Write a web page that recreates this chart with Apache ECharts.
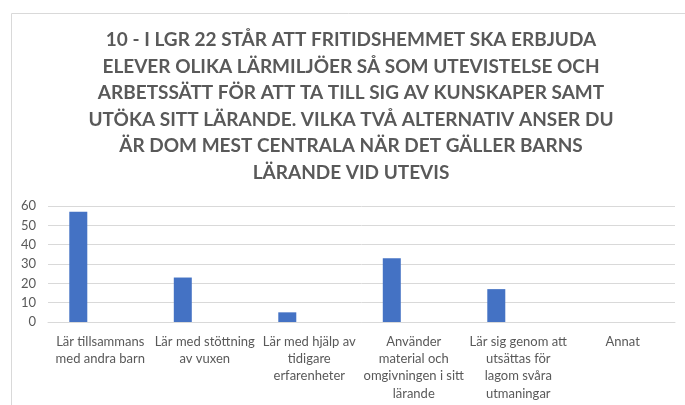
<!DOCTYPE html>
<html><head><meta charset="utf-8">
<script src="https://cdn.jsdelivr.net/npm/echarts@6/dist/echarts.min.js"></script>
<style>html,body{margin:0;padding:0;background:#fff}#c{width:685px;height:405px}</style>
</head><body><div id="c"></div>
<script>
const titleText = "10 - I LGR 22 STÅR ATT FRITIDSHEMMET SKA ERBJUDA\nELEVER OLIKA LÄRMILJÖER SÅ SOM UTEVISTELSE OCH\nARBETSSÄTT FÖR ATT TA TILL SIG AV KUNSKAPER SAMT\nUTÖKA SITT LÄRANDE. VILKA TVÅ ALTERNATIV ANSER DU\nÄR DOM MEST CENTRALA NÄR DET GÄLLER BARNS\nLÄRANDE VID UTEVIS";
const categories = [
  "Lär tillsammans\nmed andra barn",
  "Lär med stöttning\nav vuxen",
  "Lär med hjälp av\ntidigare\nerfarenheter",
  "Använder\nmaterial och\nomgivningen i sitt\nlärande",
  "Lär sig genom att\nutsättas för\nlagom svåra\nutmaningar",
  "Annat"
];
const seriesValues = [57, 23, 5, 33, 17, 0];
const emptySeries = [null, null, null, null, null, null];
const yTicks = [0, 10, 20, 30, 40, 50, 60];

const chart = echarts.init(document.getElementById('c'), null, {renderer: 'canvas'});
chart.setOption({
  animation: false,
  graphic: [{type: 'rect', shape: {x: 11.5, y: 13.5, width: 700, height: 420}, style: {fill: 'none', stroke: '#d9d9d9', lineWidth: 1}}],
  title: {
    text: titleText, left: 351, textAlign: 'center', top: 27, padding: 0,
    textStyle: {fontFamily: 'Lato', fontWeight: 'bold', fontSize: 19, color: '#595959', lineHeight: 26.5}
  },
  grid: {left: 48, right: 10, top: 206, bottom: 83, containLabel: false},
  xAxis: {
    type: 'category', data: categories,
    axisLine: {lineStyle: {color: '#d9d9d9'}}, axisTick: {show: false},
    axisLabel: {interval: 0, color: '#595959', fontFamily: 'Lato', fontSize: 13, lineHeight: 17.3, margin: 11, align: 'center'}
  },
  yAxis: {
    type: 'value', min: yTicks[0], max: yTicks[yTicks.length - 1], interval: 10,
    axisLine: {show: false}, axisTick: {show: false},
    splitLine: {lineStyle: {color: '#d9d9d9'}},
    axisLabel: {color: '#595959', fontFamily: 'Lato', fontSize: 13, margin: 12}
  },
  series: [
    {type: 'bar', data: seriesValues, barWidth: 18, barGap: '144%', itemStyle: {color: '#4472c4'}},
    {type: 'bar', data: emptySeries, barWidth: 18, itemStyle: {color: '#ed7d31'}}
  ]
});
</script></body></html>
